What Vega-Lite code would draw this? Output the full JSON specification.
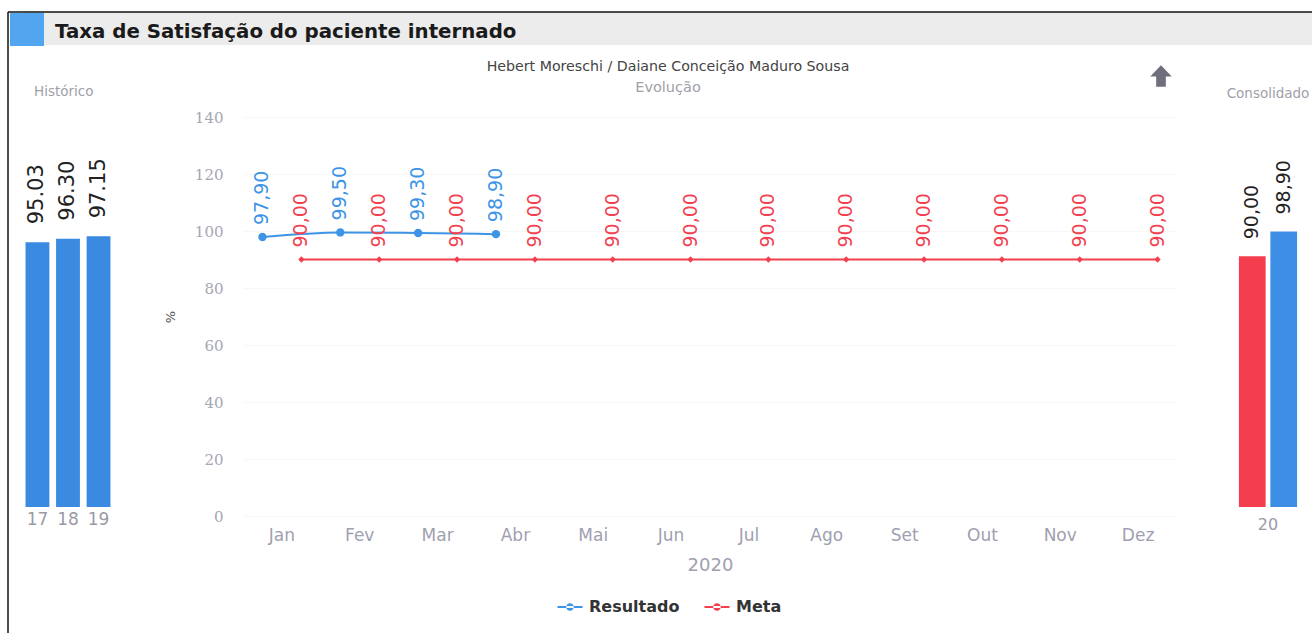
{
  "$schema": "https://vega.github.io/schema/vega-lite/v6.json",
  "autosize": {"type": "pad"},
  "padding": {"left": 7, "top": 11, "right": 0, "bottom": 0},
  "background": "white",
  "config": {
    "font": "DejaVu Sans",
    "view": {"stroke": null},
    "axis": {"grid": false}
  },
  "datasets": {
    "hist": [
      {"ano": "17", "valor": 95.03},
      {"ano": "18", "valor": 96.30},
      {"ano": "19", "valor": 97.15}
    ],
    "evol": [
      {"mes": "Jan", "serie": "Resultado", "valor": 97.9},
      {"mes": "Fev", "serie": "Resultado", "valor": 99.5},
      {"mes": "Mar", "serie": "Resultado", "valor": 99.3},
      {"mes": "Abr", "serie": "Resultado", "valor": 98.9},
      {"mes": "Jan", "serie": "Meta", "valor": 90},
      {"mes": "Fev", "serie": "Meta", "valor": 90},
      {"mes": "Mar", "serie": "Meta", "valor": 90},
      {"mes": "Abr", "serie": "Meta", "valor": 90},
      {"mes": "Mai", "serie": "Meta", "valor": 90},
      {"mes": "Jun", "serie": "Meta", "valor": 90},
      {"mes": "Jul", "serie": "Meta", "valor": 90},
      {"mes": "Ago", "serie": "Meta", "valor": 90},
      {"mes": "Set", "serie": "Meta", "valor": 90},
      {"mes": "Out", "serie": "Meta", "valor": 90},
      {"mes": "Nov", "serie": "Meta", "valor": 90},
      {"mes": "Dez", "serie": "Meta", "valor": 90}
    ],
    "cons": [
      {"ano": "20", "serie": "Meta", "valor": 90},
      {"ano": "20", "serie": "Resultado", "valor": 98.9}
    ],
    "one": [{}]
  },
  "bounds": "flush",
  "spacing": 72,
  "vconcat": [
    {
      "width": 1288,
      "height": 33,
      "view": {"fill": "#ececec", "stroke": null},
      "data": {"name": "one"},
      "layer": [
        {
          "mark": {"type": "rect", "color": "#52a6ef"},
          "encoding": {"x": {"value": -14}, "x2": {"value": 20}, "y": {"value": 1}, "y2": {"value": 34}}
        },
        {
          "mark": {"type": "rule", "color": "#111", "strokeWidth": 1.5},
          "encoding": {"x": {"value": -16}, "x2": {"value": 1288}, "y": {"value": 0}}
        },
        {
          "mark": {"type": "rule", "color": "#111", "strokeWidth": 1.5},
          "encoding": {"x": {"value": -16}, "y": {"value": 0}, "y2": {"value": 621}}
        },
        {
          "mark": {"type": "text", "text": "Taxa de Satisfação do paciente internado", "align": "left", "baseline": "alphabetic", "fontSize": 19.8, "fontWeight": "bold", "color": "#1a1a1a"},
          "encoding": {"x": {"value": 31}, "y": {"value": 26}}
        },
        {
          "mark": {"type": "point", "shape": "M-0.45,1L0.45,1L0.45,0.05L1,0.05L0,-1L-1,0.05L-0.45,0.05Z", "filled": true, "color": "#6e6e7c", "size": 460, "opacity": 1},
          "encoding": {"x": {"value": 1137}, "y": {"value": 64}}
        }
      ]
    },
    {
      "bounds": "flush",
      "spacing": 59,
      "resolve": {"scale": {"xOffset": "independent", "color": "independent", "x": "independent", "y": "independent"}},
      "hconcat": [
        {
          "width": 160,
          "height": 390,
          "title": {"text": "Histórico", "fontSize": 13.5, "color": "#a0a0a8", "fontWeight": "normal", "offset": 19, "anchor": "start", "dx": 10},
          "data": {"name": "hist"},
          "encoding": {
            "x": {"field": "ano", "type": "ordinal", "scale": {"paddingInner": 0.22, "paddingOuter": 0.05, "range": [0, 88]},
              "axis": {"title": null, "labelAngle": 0, "ticks": false, "domain": false, "labelColor": "#9a9aa6", "labelFontSize": 17, "labelPadding": 4}},
            "y": {"field": "valor", "type": "quantitative", "scale": {"domain": [0, 140]}, "axis": null}
          },
          "layer": [
            {"mark": {"type": "bar", "color": "#3a8ae2"}},
            {"mark": {"type": "text", "angle": 270, "align": "left", "baseline": "middle", "dx": 18, "fontSize": 21, "color": "#222"},
              "encoding": {"text": {"field": "valor", "type": "quantitative", "format": ".2f"}}}
          ]
        },
        {
          "width": 934,
          "height": 399,
          "title": {"text": "Hebert Moreschi / Daiane Conceição Maduro Sousa", "subtitle": "Evolução", "fontSize": 14.2, "color": "#444", "fontWeight": "normal", "subtitleFontSize": 14.5, "subtitleColor": "#a0a0a8", "subtitlePadding": 6, "offset": 16, "dx": -42},
          "data": {"name": "evol"},
          "transform": [{"calculate": "replace(format(datum.valor, '.2f'), '.', ',')", "as": "rotulo"}],
          "encoding": {
            "x": {"field": "mes", "type": "nominal", "sort": ["Jan", "Fev", "Mar", "Abr", "Mai", "Jun", "Jul", "Ago", "Set", "Out", "Nov", "Dez"],
              "scale": {"paddingInner": 0, "paddingOuter": 0},
              "axis": {"title": "2020", "labelAngle": 0, "ticks": false, "domain": false, "labelColor": "#a0a0b0", "labelFontSize": 17, "labelPadding": 11, "titleColor": "#a0a0b0", "titleFontSize": 18, "titleFontWeight": "normal", "titlePadding": 13}},
            "xOffset": {"field": "serie", "type": "nominal", "sort": ["Resultado", "Meta"], "scale": {"type": "band", "paddingInner": 0, "paddingOuter": 0}},
            "y": {"field": "valor", "type": "quantitative", "scale": {"domain": [0, 140]},
              "axis": {"values": [0, 20, 40, 60, 80, 100, 120, 140], "title": "%", "titleColor": "#555", "titleFontSize": 13, "titleFontWeight": "normal", "titlePadding": 17, "labelFont": "DejaVu Serif", "labelFontSize": 15, "labelColor": "#a6a6b4", "labelPadding": 20, "ticks": false, "domain": false, "grid": true, "gridColor": "#f7f7f7"}},
            "color": {"field": "serie", "type": "nominal", "scale": {"domain": ["Resultado", "Meta"], "range": ["#3d94e6", "#f2404f"]},
              "legend": {"title": null, "orient": "none", "direction": "horizontal", "legendX": 318, "legendY": 481, "labelFontSize": 16, "labelFontWeight": "bold", "labelColor": "#333", "labelOffset": 10, "symbolType": "M-1.4,-0.12L1.4,-0.12L1.4,0.12L-1.4,0.12Z M-0.42,0A0.42,0.42 0 1,0 0.42,0A0.42,0.42 0 1,0 -0.42,0Z", "symbolSize": 320, "symbolStrokeWidth": 0, "columnPadding": 24,
                "encode": {"symbols": {"update": {"fill": {"scale": "color", "field": "value"}, "fillOpacity": {"value": 1}, "opacity": {"value": 1}}}}}}
          },
          "layer": [
            {"transform": [{"filter": "datum.serie === 'Resultado'"}],
              "mark": {"type": "point", "shape": "circle", "filled": true, "opacity": 1, "size": 70}},
            {"transform": [{"filter": "datum.serie === 'Meta'"}],
              "mark": {"type": "point", "shape": "diamond", "filled": true, "opacity": 1, "size": 40}},
            {"mark": {"type": "line", "interpolate": "monotone", "strokeWidth": 2}},
            {"mark": {"type": "text", "angle": 270, "align": "left", "baseline": "middle", "dx": 12, "fontSize": 19},
              "encoding": {"text": {"field": "rotulo"}}}
          ]
        },
        {
          "width": 64,
          "height": 390,
          "title": {"text": "Consolidado", "fontSize": 13.5, "color": "#a0a0a8", "fontWeight": "normal", "offset": 17},
          "data": {"name": "cons"},
          "transform": [{"calculate": "replace(format(datum.valor, '.2f'), '.', ',')", "as": "rotulo"}],
          "encoding": {
            "x": {"field": "ano", "type": "ordinal", "scale": {"paddingInner": 0, "paddingOuter": 0.05},
              "axis": {"title": null, "labelAngle": 0, "ticks": false, "domain": false, "labelColor": "#9a9aa6", "labelFontSize": 16, "labelPadding": 9}},
            "xOffset": {"field": "serie", "type": "nominal", "sort": ["Meta", "Resultado"], "scale": {"paddingInner": 0.15, "paddingOuter": 0}},
            "y": {"field": "valor", "type": "quantitative", "scale": {"domain": [0, 140]}, "axis": null}
          },
          "layer": [
            {"mark": {"type": "bar"},
              "encoding": {"color": {"field": "serie", "type": "nominal", "scale": {"domain": ["Resultado", "Meta"], "range": ["#3d8fe6", "#f43d4d"]}, "legend": null}}},
            {"mark": {"type": "text", "angle": 270, "align": "left", "baseline": "middle", "dx": 17, "fontSize": 19, "color": "#222"},
              "encoding": {"text": {"field": "rotulo"}}}
          ]
        }
      ]
    }
  ]
}
